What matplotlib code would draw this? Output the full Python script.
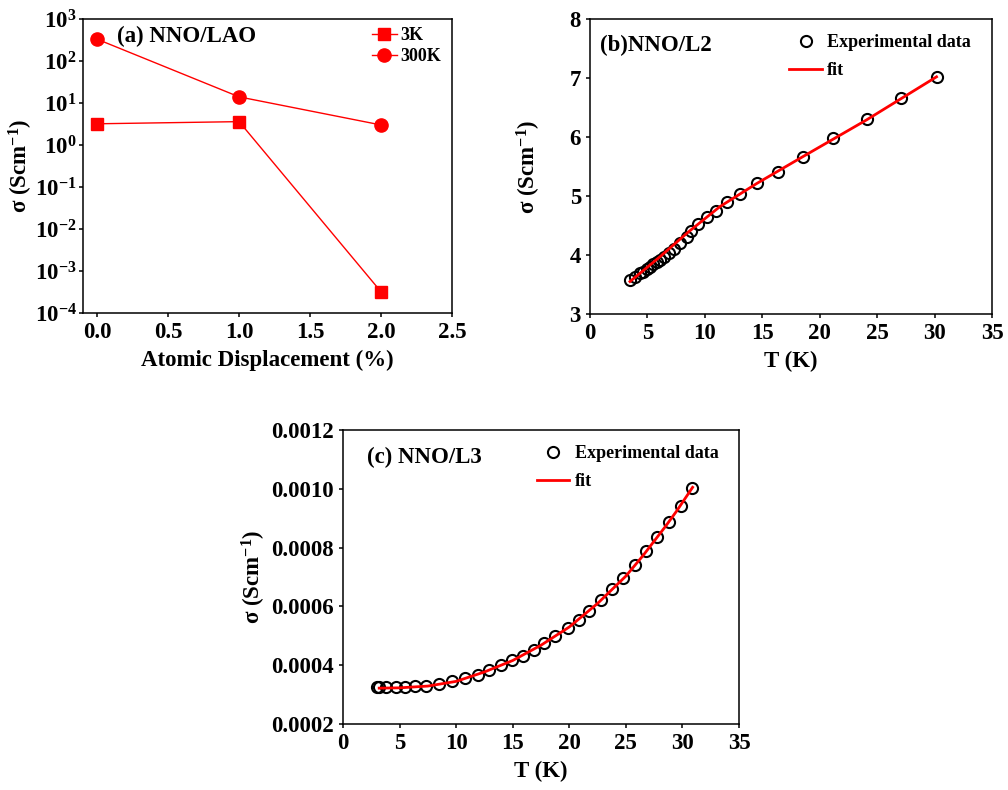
import math
import matplotlib
matplotlib.use("Agg")
import matplotlib.pyplot as plt
from matplotlib.ticker import FixedLocator, FuncFormatter, NullLocator

# ---- data ----
disp = [0.0, 1.0, 2.0]
sig_3K = [3.2, 3.6, 3.2e-4]
sig_300K = [330.0, 14.0, 3.0]

T_L2 = [3.48, 3.92, 4.35, 4.64, 4.93, 5.22, 5.51, 5.8, 6.09, 6.47, 6.9,
        7.34, 7.83, 8.41, 8.76, 9.43, 10.2, 10.96, 11.9, 13.1, 14.5, 16.4,
        18.56, 21.2, 24.1, 27.1, 30.17]
sig_L2 = [3.57, 3.63, 3.69, 3.72, 3.76, 3.80, 3.85, 3.88, 3.92, 3.96, 4.03,
          4.10, 4.20, 4.31, 4.41, 4.53, 4.64, 4.75, 4.89, 5.03, 5.22, 5.41,
          5.66, 5.98, 6.30, 6.66, 7.02]
fitT_L2 = [3.48, 6.09, 8.5, 11.31, 14.5, 18.56, 24.08, 30.17]
fit_L2 = [3.55, 3.97, 4.38, 4.82, 5.21, 5.67, 6.29, 7.02]

T_L3 = [3.0, 3.19, 3.78, 4.66, 5.49, 6.34, 7.32, 8.5, 9.62, 10.8, 11.89,
        12.92, 13.96, 14.93, 15.88, 16.85, 17.79, 18.77, 19.86, 20.83, 21.78,
        22.81, 23.78, 24.79, 25.82, 26.79, 27.74, 28.8, 29.83, 30.86]
sig_L3 = [3.26e-4, 3.26e-4, 3.26e-4, 3.26e-4, 3.26e-4, 3.28e-4, 3.30e-4,
          3.36e-4, 3.45e-4, 3.56e-4, 3.68e-4, 3.85e-4, 3.99e-4, 4.16e-4,
          4.32e-4, 4.53e-4, 4.75e-4, 5.01e-4, 5.26e-4, 5.54e-4, 5.86e-4,
          6.22e-4, 6.59e-4, 6.98e-4, 7.41e-4, 7.87e-4, 8.35e-4, 8.86e-4,
          9.42e-4, 1.002e-3]
fitT_L3 = [3.2, 5.0, 7.5, 10.0, 12.5, 15.0, 17.5, 20.0, 22.5, 25.0, 26.5,
           27.5, 28.5, 29.5, 30.9]
fit_L3 = [3.22e-4, 3.23e-4, 3.29e-4, 3.45e-4, 3.77e-4, 4.16e-4, 4.68e-4,
          5.30e-4, 6.10e-4, 7.03e-4, 7.72e-4, 8.22e-4, 8.72e-4, 9.25e-4,
          1.005e-3]

plt.rcParams['font.family'] = ['Liberation Serif', 'DejaVu Serif']
plt.rcParams['font.weight'] = 'bold'
plt.rcParams['axes.labelweight'] = 'bold'
plt.rcParams['mathtext.fontset'] = 'custom'
plt.rcParams['mathtext.rm'] = 'Liberation Serif:bold'
plt.rcParams['mathtext.bf'] = 'Liberation Serif:bold'
plt.rcParams['mathtext.it'] = 'Liberation Serif:bold'
plt.rcParams['mathtext.default'] = 'rm'
plt.rcParams['axes.linewidth'] = 1.1
plt.rcParams['xtick.major.width'] = 1.1
plt.rcParams['ytick.major.width'] = 1.1
plt.rcParams['xtick.major.size'] = 3
plt.rcParams['ytick.major.size'] = 3

fig = plt.figure(figsize=(10.08, 7.9), dpi=100)
W, H = 1008, 790

def add_axes(l, t, r, b):
    return fig.add_axes([l / W, 1 - b / H, (r - l) / W, (b - t) / H])

ax_a = add_axes(83, 19, 452, 313)
ax_b = add_axes(590, 19, 992, 314)
ax_c = add_axes(343, 430, 739, 724)

tick_fs = 16.5
lab_fs = 16.5
leg_fs = 13
ylab = r'σ (Scm$^{-1}$)'

# ---- (a) ----
ax_a.semilogy(disp, sig_3K, color='red', marker='s', ms=8, lw=1, label='3K')
ax_a.semilogy(disp, sig_300K, color='red', marker='o', ms=9.5, lw=1, label='300K')
ax_a.set_xlim(-0.1, 2.5)
ax_a.set_ylim(1e-4, 1e3)
ax_a.set_xticks([0.0, 0.5, 1.0, 1.5, 2.0, 2.5])
ax_a.set_xticklabels(['0.0', '0.5', '1.0', '1.5', '2.0', '2.5'])
ax_a.yaxis.set_major_locator(FixedLocator([10.0 ** k for k in range(-4, 4)]))
ax_a.yaxis.set_minor_locator(NullLocator())
ax_a.yaxis.set_major_formatter(FuncFormatter(
    lambda v, p: r'$10^{%d}$' % round(math.log10(v))))
ax_a.set_xlabel('Atomic Displacement (%)', fontsize=lab_fs, labelpad=5)
ax_a.set_ylabel(ylab, fontsize=lab_fs)
ax_a.yaxis.set_label_coords(-0.13, 0.5)
ax_a.text(0.092, 0.94, '(a) NNO/LAO', transform=ax_a.transAxes,
          fontsize=16.5, fontweight='bold', va='center', ha='left')
ax_a.legend(loc='upper right', bbox_to_anchor=(1.0, 1.01), frameon=False,
            fontsize=leg_fs, handlelength=1.4, handletextpad=0.2,
            labelspacing=0.25, borderaxespad=0.2)

# ---- (b) ----
ax_b.plot(T_L2, sig_L2, ls='none', marker='o', ms=8, mfc='none', mec='black',
          mew=1.5, label='Experimental data')
ax_b.plot(fitT_L2, fit_L2, color='red', lw=2, label='fit')
ax_b.set_xlim(0, 35)
ax_b.set_ylim(3, 8)
ax_b.set_xticks(range(0, 36, 5))
ax_b.set_yticks(range(3, 9))
ax_b.set_xlabel('T (K)', fontsize=lab_fs, labelpad=5)
ax_b.set_ylabel(ylab, fontsize=lab_fs)
ax_b.yaxis.set_label_coords(-0.117, 0.5)
ax_b.text(0.025, 0.91, '(b)NNO/L2', transform=ax_b.transAxes,
          fontsize=16.5, fontweight='bold', va='center', ha='left')
ax_b.legend(loc='upper right', bbox_to_anchor=(0.975, 0.985), frameon=False,
            fontsize=leg_fs, handlelength=1.8, handletextpad=0.3,
            labelspacing=0.6, borderaxespad=0.2)

# ---- (c) ----
ax_c.plot(T_L3, sig_L3, ls='none', marker='o', ms=8, mfc='none', mec='black',
          mew=1.5, label='Experimental data')
ax_c.plot(fitT_L3, fit_L3, color='red', lw=2, label='fit')
ax_c.set_xlim(0, 35)
ax_c.set_ylim(0.0002, 0.0012)
ax_c.set_xticks(range(0, 36, 5))
ax_c.set_yticks([0.0002, 0.0004, 0.0006, 0.0008, 0.0010, 0.0012])
ax_c.yaxis.set_major_formatter(FuncFormatter(lambda v, p: '%.4f' % v))
ax_c.set_xlabel('T (K)', fontsize=lab_fs, labelpad=5)
ax_c.set_ylabel(ylab, fontsize=lab_fs)
ax_c.yaxis.set_label_coords(-0.19, 0.5)
ax_c.text(0.06, 0.908, '(c) NNO/L3', transform=ax_c.transAxes,
          fontsize=16.5, fontweight='bold', va='center', ha='left')
ax_c.legend(loc='upper right', bbox_to_anchor=(0.975, 0.985), frameon=False,
            fontsize=leg_fs, handlelength=1.8, handletextpad=0.3,
            labelspacing=0.6, borderaxespad=0.2)

for ax in (ax_a, ax_b, ax_c):
    ax.tick_params(direction='out', labelsize=tick_fs, top=False, right=False)
    for lbl in ax.get_xticklabels() + ax.get_yticklabels():
        lbl.set_fontweight('bold')
ax_a.tick_params(axis='y', pad=1.5)

fig.savefig('out.png', dpi=100, facecolor='white')
